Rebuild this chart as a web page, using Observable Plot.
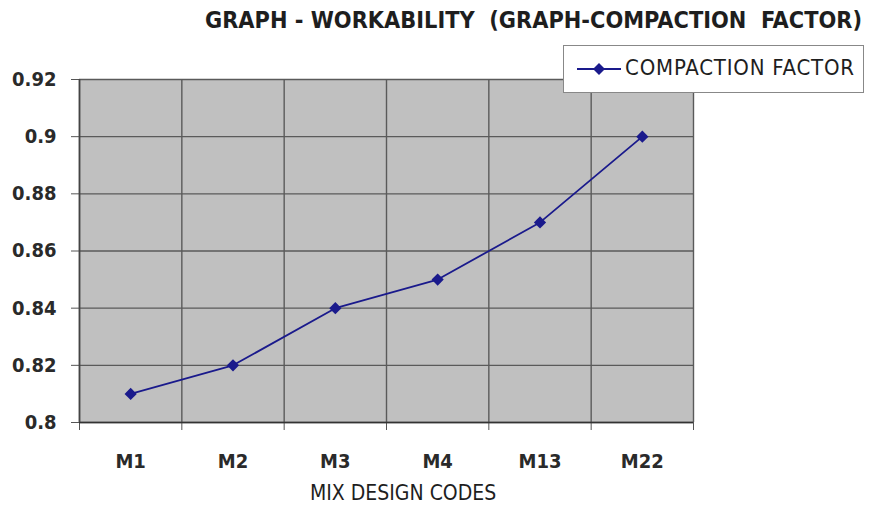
<!DOCTYPE html>
<html><head><meta charset="utf-8">
<script src="https://cdn.jsdelivr.net/npm/d3@7"></script>
<script src="https://cdn.jsdelivr.net/npm/@observablehq/plot@0.6"></script>
<style>
body{margin:0;background:#fff;}
#wrap{position:relative;width:874px;height:510px;font-family:"DejaVu Sans Condensed","Liberation Sans Narrow","Liberation Sans",sans-serif;color:#222;}
#title{position:absolute;left:205px;top:6px;font-size:23.3px;font-weight:bold;white-space:pre;color:#1e1e1e;}
#legend{position:absolute;left:563px;top:45px;width:301px;height:48px;border:1px solid #888;background:#fff;box-sizing:border-box;}
#legend svg{position:absolute;left:13px;top:13px;}
#legend span{position:absolute;left:61px;top:9px;font-size:22px;white-space:nowrap;letter-spacing:0.8px;color:#1e1e1e;}
#xlabel{position:absolute;left:310px;top:481px;font-size:21px;white-space:nowrap;color:#1e1e1e;}
</style></head>
<body>
<div id="wrap">
<div id="chart"></div>
<div id="title">GRAPH - WORKABILITY  (GRAPH-COMPACTION  FACTOR)</div>
<div id="legend"><svg width="46" height="20"><line x1="0" y1="10" x2="44" y2="10" stroke="#1a1a8c" stroke-width="2"/><path d="M22,4 L28,10 L22,16 L16,10Z" fill="#1a1a8c"/></svg><span>COMPACTION FACTOR</span></div>
<div id="xlabel">MIX DESIGN CODES</div>
</div>
<script>
const categories = ["M1","M2","M3","M4","M13","M22"];
const compactionFactor = [0.81,0.82,0.84,0.85,0.87,0.90];
const yTicks = [0.8,0.82,0.84,0.86,0.88,0.9,0.92];

const data = categories.map((c,i)=>({code:c, pos:i+0.5, value:compactionFactor[i]}));
const bounds = d3.range(categories.length+1);

const chart = Plot.plot({
  width: 874, height: 510,
  marginLeft: 79, marginRight: 181, marginTop: 79, marginBottom: 88,
  style: {fontFamily: '"DejaVu Sans Condensed","Liberation Sans Narrow","Liberation Sans",sans-serif', fontSize: "20px", color:"#2a2a2a", background:"transparent"},
  x: {type:"linear", domain:[0, categories.length]},
  y: {domain:[0.8,0.92]},
  marks: [
    Plot.frame({fill:"#c0c0c0"}),
    Plot.gridY(yTicks, {stroke:"#5a5a5a", strokeOpacity:1, strokeWidth:1.4}),
    Plot.gridX(bounds, {stroke:"#5a5a5a", strokeOpacity:1, strokeWidth:1.4}),
    Plot.axisY(yTicks, {tickSize:8, tickPadding:15, tickFormat: d => String(+d.toFixed(2)), stroke:"#555", fontSize:20, fontWeight:"bold", label:null}),
    Plot.axisX(bounds, {tickSize:8, tickFormat: () => "", stroke:"#555", label:null}),
    Plot.axisX(data.map(d=>d.pos), {tickSize:0, tickPadding:31, tickFormat: (d,i) => categories[i], fontSize:20, fontWeight:"bold", label:null}),
    Plot.ruleY([0.8], {stroke:"#333", strokeWidth:1.6}),
    Plot.ruleX([0], {stroke:"#444", strokeWidth:1.6}),
    Plot.line(data, {x:"pos", y:"value", stroke:"#1a1a8c", strokeWidth:1.8}),
    Plot.dot(data, {x:"pos", y:"value", symbol:"diamond2", r:5.5, fill:"#1a1a8c", stroke:"none"})
  ]
});
document.getElementById("chart").appendChild(chart);
</script>
</body></html>
